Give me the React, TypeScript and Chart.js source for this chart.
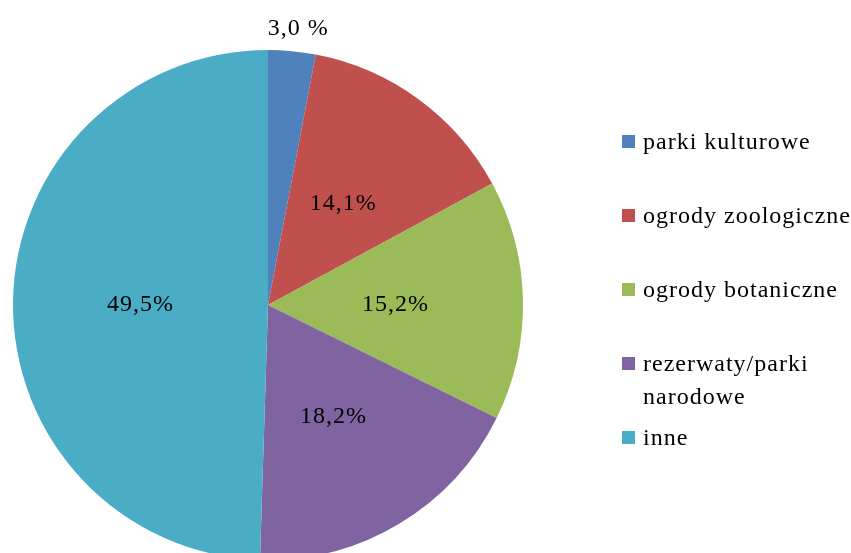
import React, { useEffect, useRef } from "react";
import { Chart, registerables } from "chart.js";

Chart.register(...registerables);

const categories = [
  "parki kulturowe",
  "ogrody zoologiczne",
  "ogrody botaniczne",
  "rezerwaty/parki narodowe",
  "inne",
];
const values = [3.0, 14.1, 15.2, 18.2, 49.5];
const valueLabels = ["3,0 %", "14,1%", "15,2%", "18,2%", "49,5%"];
const colors = ["#4F81BD", "#C0504D", "#9BBB59", "#8064A2", "#4BACC6"];

const FONT = "24px 'Liberation Serif'";

const labelsPlugin = {
  id: "sliceLabels",
  afterDatasetsDraw(chart: any) {
    const ctx = chart.ctx;
    const meta = chart.getDatasetMeta(0);
    ctx.save();
    ctx.font = FONT;
    (ctx as any).letterSpacing = "1px";
    ctx.fillStyle = "#000";
    ctx.textAlign = "center";
    ctx.textBaseline = "middle";
    meta.data.forEach((arc: any, i: number) => {
      const { x, y, startAngle, endAngle, outerRadius } = arc.getProps(
        ["x", "y", "startAngle", "endAngle", "outerRadius"],
        true
      );
      const mid = (startAngle + endAngle) / 2;
      const small = values[i] < 5;
      const r = small ? outerRadius + 25 : outerRadius * 0.5;
      const lx = x + Math.cos(mid) * r;
      const ly = y + Math.sin(mid) * r;
      ctx.fillText(valueLabels[i], lx + (small ? 4 : 0), ly + 2);
    });
    ctx.restore();
  },
};

const legendPlugin = {
  id: "customLegend",
  afterDraw(chart: any) {
    const ctx = chart.ctx;
    ctx.save();
    ctx.font = FONT;
    (ctx as any).letterSpacing = "1px";
    ctx.textBaseline = "middle";
    ctx.textAlign = "left";
    const x0 = 622;
    const tx = 643;
    const maxW = 208;
    chart.data.labels.forEach((lab: string, i: number) => {
      const cy = 142 + i * 74;
      ctx.fillStyle = chart.data.datasets[0].backgroundColor[i];
      ctx.fillRect(x0, cy - 7, 13, 13);
      ctx.fillStyle = "#000";
      const words = lab.split(" ");
      const lines: string[] = [];
      let cur = "";
      words.forEach((w) => {
        const test = cur ? cur + " " + w : w;
        if (ctx.measureText(test).width > maxW && cur) {
          lines.push(cur);
          cur = w;
        } else cur = test;
      });
      if (cur) lines.push(cur);
      lines.forEach((ln, j) => ctx.fillText(ln, tx, cy + 1 + j * 33));
    });
    ctx.restore();
  },
};

export default function App() {
  const ref = useRef<HTMLCanvasElement>(null);
  useEffect(() => {
    let chart: Chart | null = null;
    let cancelled = false;
    const make = () => {
      if (cancelled || !ref.current) return;
      chart = new Chart(ref.current, {
        type: "pie",
        data: {
          labels: categories,
          datasets: [
            {
              data: values,
              backgroundColor: colors,
              borderWidth: 0,
            },
          ],
        },
        options: {
          responsive: false,
          animation: false,
          layout: { padding: { left: 13, top: 50, right: 328, bottom: 60 } },
          plugins: {
            legend: { display: false },
            tooltip: { enabled: false },
          },
        },
        plugins: [labelsPlugin, legendPlugin],
      });
    };
    const fonts = (document as any).fonts;
    if (fonts && fonts.load) {
      fonts.load(FONT).then(make, make);
    } else make();
    return () => {
      cancelled = true;
      if (chart) chart.destroy();
    };
  }, []);
  return (
    <div
      style={{
        position: "fixed",
        left: 0,
        top: 0,
        width: 851,
        height: 553,
        overflow: "hidden",
        background: "#fff",
      }}
    >
      <canvas ref={ref} width={851} height={620} style={{ display: "block" }} />
    </div>
  );
}
